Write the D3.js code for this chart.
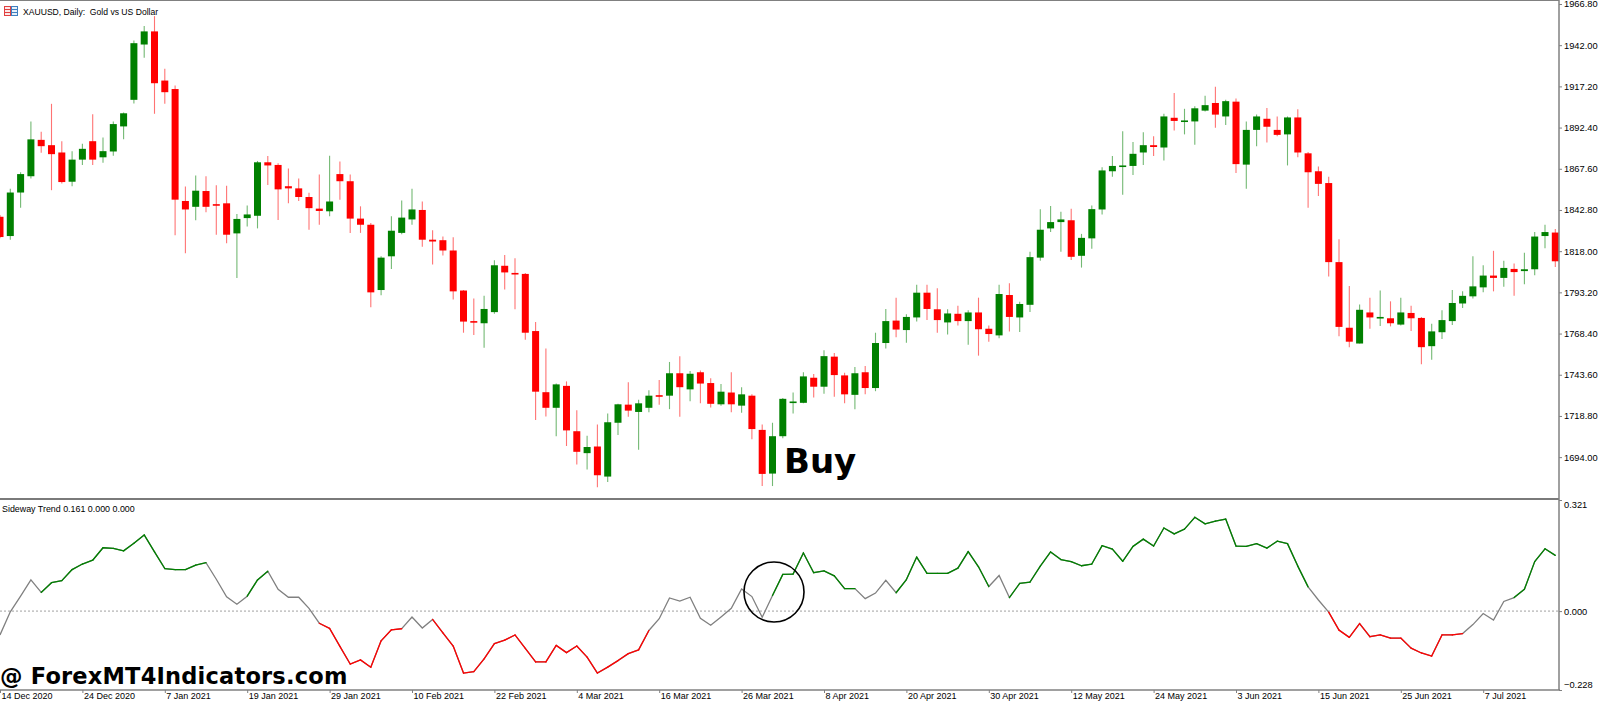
<!DOCTYPE html>
<html>
<head>
<meta charset="utf-8">
<script src="https://cdn.jsdelivr.net/npm/d3@7"></script>
<style>
  body { margin: 0; background: #fff; }
  svg { display: block; }
</style>
</head>
<body>
<svg id="chart" width="1600" height="703"></svg>
<script>
// XAUUSD daily bars, 14 Dec 2020 .. 16 Jul 2021
const opens = [1838.7,1827.1,1853.3,1863.1,1885.0,1881.8,1877.4,1859.8,1873.1,1884.2,1874.5,1878.0,1893.1,1909.1,1942.4,1950.3,1920.7,1915.6,1848.2,1844.7,
  1854.2,1846.3,1846.8,1828.7,1837.9,1839.3,1871.5,1869.9,1857.1,1855.8,1850.6,1843.6,1842.0,1864.4,1860.1,1837.6,1833.9,1794.6,1814.9,1829.0,
  1837.1,1842.8,1824.9,1824.6,1818.4,1794.3,1775.9,1774.6,1781.3,1809.2,1804.9,1804.3,1769.9,1733.1,1723.7,1736.9,1709.6,1696.4,1700.4,1682.3,
  1714.7,1725.6,1721.2,1723.7,1731.3,1731.0,1744.5,1734.8,1745.1,1738.6,1725.8,1732.9,1725.0,1731.0,1710.4,1684.1,1706.6,1726.7,1726.7,1741.8,
  1736.4,1754.5,1743.2,1731.5,1745.1,1735.6,1762.7,1776.2,1770.5,1778.1,1793.0,1783.0,1775.1,1780.3,1775.9,1781.1,1771.3,1767.3,1791.6,1778.1,
  1785.7,1814.1,1831.7,1835.5,1836.6,1815.2,1825.7,1843.1,1866.1,1869.0,1869.3,1877.4,1881.8,1880.4,1898.3,1896.1,1896.1,1902.6,1907.2,1899.1,
  1908.0,1870.1,1891.0,1897.7,1891.0,1888.3,1898.5,1876.9,1866.1,1859.0,1811.4,1771.9,1762.4,1781.1,1777.8,1777.6,1773.8,1780.8,1777.8,1760.8,
  1769.2,1775.9,1786.5,1790.8,1796.2,1803.3,1801.9,1807.3,1806.0,1807.1,1827.1,1829.2];
const highs = [1839.8,1855.5,1865.5,1896.1,1889.9,1906.7,1884.2,1878.2,1882.6,1900.4,1886.4,1896.1,1901.5,1944.8,1953.5,1959.5,1927.8,1917.8,1856.9,1863.6,
  1863.1,1857.7,1857.4,1840.3,1845.5,1872.3,1875.3,1870.9,1867.7,1861.7,1853.1,1864.2,1875.5,1872.0,1864.2,1845.0,1834.9,1814.9,1839.0,1848.5,
  1855.5,1847.9,1830.6,1826.8,1826.3,1794.6,1789.5,1791.1,1812.5,1815.7,1813.8,1804.9,1775.4,1759.4,1738.3,1739.6,1722.3,1706.9,1713.7,1720.2,
  1726.1,1739.1,1728.5,1734.2,1740.5,1751.3,1754.8,1745.9,1746.1,1741.5,1738.0,1745.1,1736.1,1731.8,1713.7,1714.7,1729.6,1732.9,1745.1,1744.0,
  1758.3,1756.7,1744.8,1748.3,1748.9,1768.9,1783.2,1790.0,1780.0,1797.8,1797.8,1795.7,1783.0,1785.1,1782.4,1790.0,1773.2,1797.8,1798.7,1787.6,
  1817.6,1843.3,1845.2,1841.7,1843.6,1828.4,1845.5,1868.5,1875.3,1890.2,1883.7,1889.6,1887.2,1900.7,1913.2,1903.7,1905.3,1911.5,1917.0,1909.1,
  1909.9,1896.1,1900.2,1904.2,1899.1,1899.1,1903.4,1877.7,1869.0,1862.8,1825.2,1797.0,1785.9,1790.0,1794.3,1787.8,1790.0,1785.1,1778.4,1774.3,
  1782.4,1794.6,1793.8,1814.9,1809.5,1818.2,1812.2,1810.6,1817.1,1829.5,1833.9,1831.4];
const lows = [1825.7,1824.9,1844.1,1861.7,1877.2,1854.7,1858.8,1857.1,1869.8,1869.8,1871.2,1875.5,1885.3,1906.9,1934.5,1900.7,1906.7,1827.6,1816.8,1836.6,
  1841.4,1827.9,1822.8,1801.9,1832.8,1831.7,1857.9,1836.8,1846.8,1848.2,1830.9,1833.9,1839.0,1849.0,1829.0,1829.0,1784.3,1791.4,1807.3,1828.2,
  1833.9,1820.6,1810.0,1815.4,1788.9,1768.9,1767.5,1759.9,1780.3,1794.9,1783.0,1764.6,1716.4,1718.5,1706.6,1700.7,1689.6,1686.6,1675.8,1679.0,
  1707.4,1718.3,1698.5,1721.0,1725.6,1722.9,1718.3,1727.7,1726.4,1723.9,1725.0,1721.0,1720.7,1704.7,1676.6,1676.6,1705.3,1720.2,1726.4,1729.9,
  1732.1,1730.4,1726.4,1722.9,1731.8,1733.7,1759.4,1766.2,1762.9,1775.6,1776.5,1768.9,1767.8,1773.2,1761.6,1755.1,1763.5,1765.6,1769.7,1769.4,
  1781.3,1812.2,1829.5,1817.6,1812.7,1808.1,1819.5,1840.1,1862.8,1852.0,1863.9,1869.9,1875.3,1872.6,1890.7,1888.3,1882.0,1902.1,1892.3,1893.9,
  1865.0,1855.5,1881.2,1883.4,1887.2,1869.6,1874.5,1844.1,1851.2,1802.7,1766.7,1760.2,1762.4,1771.3,1772.9,1772.7,1773.2,1769.9,1749.9,1752.6,
  1765.1,1773.5,1783.8,1789.5,1793.2,1793.8,1796.5,1791.1,1798.1,1803.5,1819.8,1808.4];
const closes = [1826.5,1853.3,1864.4,1885.3,1881.2,1876.4,1859.6,1873.1,1879.6,1873.1,1878.2,1894.5,1901.0,1943.2,1950.3,1919.1,1913.7,1849.0,1843.1,1854.4,
  1844.7,1845.8,1827.9,1837.4,1840.1,1871.5,1869.6,1855.2,1855.8,1850.6,1843.9,1842.2,1847.9,1860.1,1837.6,1833.9,1793.2,1814.1,1830.3,1838.2,
  1843.1,1824.9,1823.8,1818.4,1793.8,1775.6,1775.1,1783.2,1809.5,1805.2,1804.3,1768.9,1733.4,1723.7,1737.8,1710.1,1697.2,1700.1,1683.1,1715.0,
  1725.8,1722.0,1726.4,1731.0,1730.7,1744.5,1736.1,1744.2,1738.3,1726.1,1733.4,1725.8,1731.8,1710.9,1683.9,1706.6,1729.1,1727.5,1742.6,1736.4,
  1754.8,1743.4,1731.8,1744.5,1735.6,1762.7,1775.9,1770.8,1778.4,1793.0,1783.2,1776.5,1780.5,1775.9,1781.1,1771.0,1768.1,1792.2,1778.4,1786.2,
  1814.4,1830.9,1835.5,1837.1,1814.6,1826.0,1843.3,1866.6,1869.3,1869.6,1876.6,1881.8,1880.7,1899.1,1896.4,1896.7,1904.0,1905.9,1900.2,1908.3,
  1870.4,1891.0,1899.1,1892.9,1888.0,1898.5,1877.4,1865.5,1858.5,1811.4,1772.4,1763.5,1782.7,1778.1,1778.4,1774.6,1781.1,1777.6,1760.2,1769.7,
  1776.5,1786.8,1791.1,1796.8,1803.3,1801.9,1807.9,1805.4,1807.1,1826.8,1829.5,1811.9];

// Sideway Trend indicator value per bar, and its state: g = up, r = down, n = sideways
const trend = [-0.069,-0.002,0.043,0.090,0.054,0.082,0.088,0.120,0.136,0.147,0.183,0.181,0.174,0.196,0.220,0.171,0.123,0.120,0.120,0.133,
  0.140,0.092,0.041,0.020,0.043,0.090,0.115,0.063,0.040,0.040,0.008,-0.035,-0.050,-0.102,-0.153,-0.141,-0.162,-0.086,-0.054,-0.051,
  -0.017,-0.049,-0.024,-0.063,-0.101,-0.179,-0.175,-0.138,-0.094,-0.084,-0.069,-0.108,-0.147,-0.147,-0.099,-0.120,-0.101,-0.133,-0.179,-0.162,
  -0.143,-0.123,-0.112,-0.056,-0.022,0.038,0.029,0.040,-0.021,-0.041,-0.017,0.008,0.064,0.042,-0.018,0.045,0.106,0.107,0.168,0.111,
  0.116,0.102,0.065,0.065,0.036,0.052,0.089,0.053,0.091,0.156,0.109,0.109,0.109,0.124,0.172,0.128,0.071,0.103,0.039,0.080,
  0.084,0.130,0.171,0.149,0.143,0.131,0.136,0.189,0.179,0.144,0.187,0.208,0.188,0.240,0.223,0.237,0.271,0.252,0.260,0.266,
  0.188,0.187,0.195,0.182,0.202,0.195,0.130,0.070,0.032,-0.003,-0.055,-0.076,-0.036,-0.074,-0.069,-0.078,-0.078,-0.107,-0.121,-0.130,
  -0.069,-0.069,-0.065,-0.039,-0.007,-0.026,0.028,0.039,0.063,0.143,0.180,0.161];
const trendState = ("nnnn" + "ggggggggggggggggg" + "nnn" + "ggg" + "nnnn" + "rrrrrrrrr" + "nn" +
  "rrrrrrrrrrrrrrrrrrrrrr" + "nnnnnnnnnnn" + "ggggggggg" + "nnn" + "gggggggggg" + "n" +
  "gggggggggggggggggggggggggggggg" + "n" + "rrrrrrrrrrrrrr" + "nnnn" + "ggggg").split("");

const dateTicks = [0, 8, 16, 24, 32, 40, 48, 56, 64, 72, 80, 88, 96, 104, 112, 120, 128, 136, 144];
const dateLabels = ["14 Dec 2020", "24 Dec 2020", "7 Jan 2021", "19 Jan 2021", "29 Jan 2021", "10 Feb 2021",
  "22 Feb 2021", "4 Mar 2021", "16 Mar 2021", "26 Mar 2021", "8 Apr 2021", "20 Apr 2021", "30 Apr 2021",
  "12 May 2021", "24 May 2021", "3 Jun 2021", "15 Jun 2021", "25 Jun 2021", "7 Jul 2021"];
const priceTicks = [1966.80, 1942.00, 1917.20, 1892.40, 1867.60, 1842.80, 1818.00, 1793.20, 1768.40, 1743.60, 1718.80, 1694.00];
const trendTicks = [0.321, 0.000, -0.228];

const bars = opens.map((o, i) => ({ i, o, h: highs[i], l: lows[i], c: closes[i] }));

const W = 1600, H = 703;
const axisX = 1559;
const mainTop = 0, mainBottom = 498;
const subTop = 500, subBottom = 690;
const font = "'Liberation Sans', Arial, sans-serif";
const upColor = "#008000", downColor = "#ff0000", flatColor = "#808080";

const svg = d3.select("#chart");

const xScale = d3.scaleLinear().domain([0, 151]).range([0, 1555.3]);
const yPrice = d3.scaleLinear().domain([1669.4, 1969.2]).range([mainBottom, mainTop]);
const yTrend = d3.scaleLinear().domain([-0.228, 0.321]).range([subBottom, subTop]);

svg.append("rect").attr("width", W).attr("height", H).attr("fill", "#fff");

svg.append("clipPath").attr("id", "mainClip")
  .append("rect").attr("x", 0).attr("y", 0).attr("width", axisX).attr("height", mainBottom);
svg.append("clipPath").attr("id", "subClip")
  .append("rect").attr("x", 0).attr("y", subTop).attr("width", axisX).attr("height", subBottom - subTop);

// candles
const candles = svg.append("g").attr("clip-path", "url(#mainClip)");
const bodyW = 7;
const candle = candles.selectAll("g").data(bars).enter().append("g");

candle.append("line")
  .attr("x1", (d) => xScale(d.i))
  .attr("x2", (d) => xScale(d.i))
  .attr("y1", (d) => yPrice(d.h))
  .attr("y2", (d) => yPrice(d.l))
  .attr("stroke", (d) => (d.c >= d.o ? upColor : downColor))
  .attr("stroke-opacity", 0.55)
  .attr("stroke-width", 1.1);

candle.append("rect")
  .attr("x", (d) => xScale(d.i) - bodyW / 2)
  .attr("width", bodyW)
  .attr("y", (d) => yPrice(Math.max(d.o, d.c)))
  .attr("height", (d) => Math.max(1.6, Math.abs(yPrice(d.o) - yPrice(d.c))))
  .attr("fill", (d) => (d.c >= d.o ? upColor : downColor));

// indicator pane
const sub = svg.append("g").attr("clip-path", "url(#subClip)");

sub.append("line")
  .attr("x1", 0).attr("x2", axisX)
  .attr("y1", yTrend(0)).attr("y2", yTrend(0))
  .attr("stroke", "#a0a0a0").attr("stroke-dasharray", "2,2").attr("stroke-width", 1);

const lineGen = d3.line().x((d, i) => xScale(i)).y((d) => yTrend(d));
sub.append("path").attr("d", lineGen(trend))
  .attr("fill", "none").attr("stroke", flatColor).attr("stroke-width", 1.3);

const segments = [];
for (let i = 0; i < trend.length - 1; i++) {
  const s = trendState[i];
  if (s !== "n" && s === trendState[i + 1]) segments.push({ i, s });
}
sub.selectAll("line.seg").data(segments).enter().append("line")
  .attr("class", "seg")
  .attr("x1", (d) => xScale(d.i)).attr("x2", (d) => xScale(d.i + 1))
  .attr("y1", (d) => yTrend(trend[d.i])).attr("y2", (d) => yTrend(trend[d.i + 1]))
  .attr("stroke", (d) => (d.s === "g" ? upColor : downColor))
  .attr("stroke-width", 1.3).attr("stroke-linecap", "round");

// frame lines
svg.append("line").attr("x1", 0).attr("x2", axisX).attr("y1", 0.5).attr("y2", 0.5)
  .attr("stroke", "#808080").attr("stroke-width", 1);
svg.append("line").attr("x1", 0).attr("x2", axisX).attr("y1", 499).attr("y2", 499)
  .attr("stroke", "#7a7a7a").attr("stroke-width", 2);

// price axis
const priceAxis = svg.append("g")
  .attr("transform", `translate(${axisX},0)`)
  .call(d3.axisRight(yPrice).tickValues(priceTicks).tickSize(3).tickPadding(2).tickFormat(d3.format(".2f")));
priceAxis.select(".domain").remove();

const trendAxis = svg.append("g")
  .attr("transform", `translate(${axisX},0)`)
  .call(d3.axisRight(yTrend).tickValues(trendTicks).tickSize(3).tickPadding(2).tickFormat(d3.format(".3f")));
trendAxis.select(".domain").remove();
trendAxis.selectAll(".tick text")
  .attr("dy", (d) => (d === 0.321 ? "0.85em" : d === -0.228 ? "-0.3em" : "0.32em"));

[priceAxis, trendAxis].forEach((ax) => {
  ax.selectAll(".tick line").attr("stroke", "#808080");
  ax.selectAll(".tick text").attr("fill", "#000").style("font-family", font).style("font-size", "9.3px");
});

svg.append("line").attr("x1", axisX).attr("x2", axisX).attr("y1", 0).attr("y2", subBottom)
  .attr("stroke", "#808080").attr("stroke-width", 1.5);

// date axis
const dateAxis = svg.append("g")
  .attr("transform", `translate(0,${subBottom})`)
  .call(d3.axisBottom(xScale).tickValues(dateTicks).tickSize(3).tickFormat((d, i) => dateLabels[i]));
dateAxis.select(".domain").remove();
dateAxis.selectAll(".tick line").attr("stroke", "#808080");
dateAxis.selectAll(".tick text")
  .attr("text-anchor", "start").attr("x", 1).attr("y", 3).attr("dy", "0.71em")
  .attr("fill", "#000").style("font-family", font).style("font-size", "9px");

svg.append("line").attr("x1", 0).attr("x2", axisX + 1).attr("y1", subBottom).attr("y2", subBottom)
  .attr("stroke", "#808080").attr("stroke-width", 1.5);

// titles
const icon = svg.append("g");
icon.append("rect").attr("x", 4.5).attr("y", 6.5).attr("width", 6).attr("height", 9)
  .attr("fill", "#fde8e8").attr("stroke", "#e04040");
icon.append("rect").attr("x", 11.5).attr("y", 6.5).attr("width", 6).attr("height", 9)
  .attr("fill", "#e6f0fa").attr("stroke", "#3f7fc0");
[9.5, 12.5].forEach((yy) => {
  icon.append("line").attr("x1", 5).attr("x2", 10).attr("y1", yy).attr("y2", yy).attr("stroke", "#e04040");
  icon.append("line").attr("x1", 12).attr("x2", 17).attr("y1", yy).attr("y2", yy).attr("stroke", "#3f7fc0");
});

svg.append("text").attr("x", 23).attr("y", 15)
  .style("font-family", font).style("font-size", "8.6px").attr("fill", "#000")
  .attr("xml:space", "preserve")
  .text("XAUUSD, Daily:  Gold vs US Dollar");

svg.append("text").attr("x", 2).attr("y", 511.5)
  .style("font-family", font).style("font-size", "8.9px").attr("fill", "#000")
  .text("Sideway Trend 0.161 0.000 0.000");

// annotations
svg.append("text").attr("x", 784).attr("y", 473)
  .style("font-family", "'DejaVu Sans', sans-serif").style("font-weight", "bold").style("font-size", "34px")
  .attr("fill", "#000").text("Buy");

svg.append("circle").attr("cx", 774).attr("cy", 592).attr("r", 30)
  .attr("fill", "none").attr("stroke", "#000").attr("stroke-width", 1.6);

svg.append("text").attr("x", 0).attr("y", 684)
  .style("font-family", "'DejaVu Sans', sans-serif").style("font-weight", "bold").style("font-size", "22.5px")
  .style("letter-spacing", "0.2px")
  .attr("fill", "#000").text("@ ForexMT4Indicators.com");
</script>
</body>
</html>
